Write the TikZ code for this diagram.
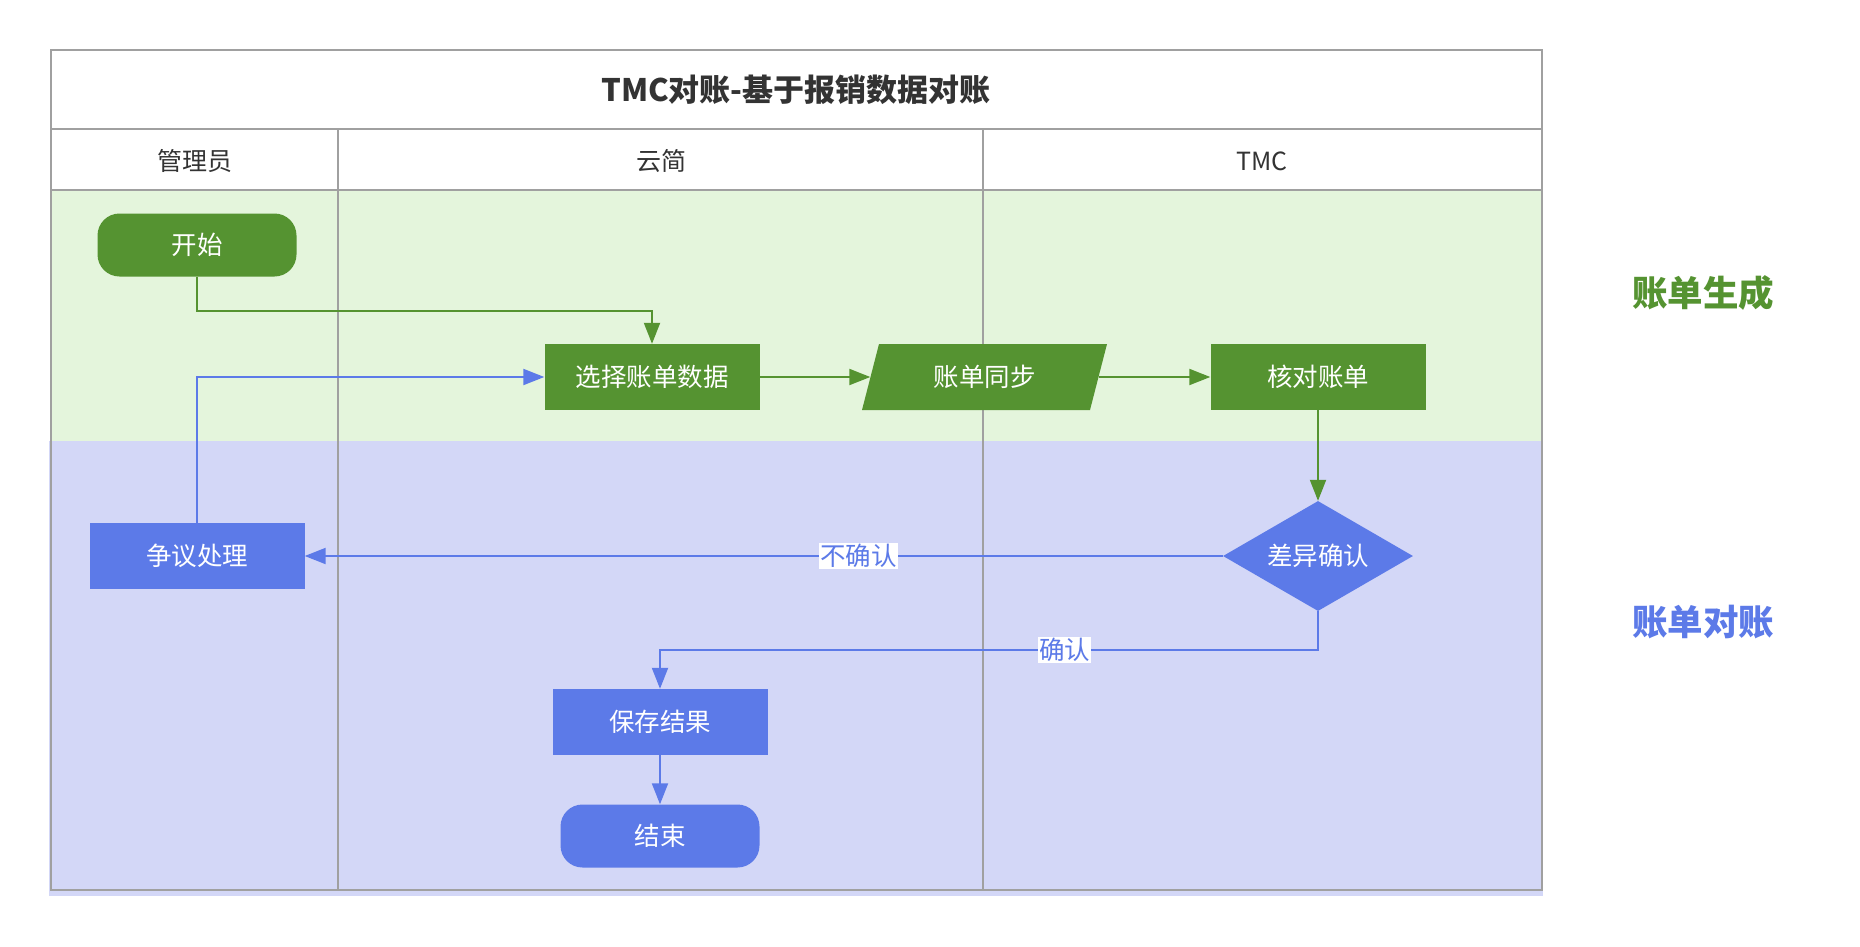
\documentclass[tikz,border=0pt]{standalone}
\usepackage{fontspec}
\setmainfont{Noto Sans CJK SC}
\usetikzlibrary{arrows.meta,shapes.geometric}
\definecolor{gfill}{HTML}{559331}
\definecolor{bfill}{HTML}{5C7AE8}
\definecolor{gband}{HTML}{E4F5DC}
\definecolor{bband}{HTML}{D3D7F7}
\definecolor{lanegray}{HTML}{A0A0A0}
\definecolor{txtgray}{HTML}{333333}
\newcommand\fsz[1]{\fontsize{#1}{#1}\selectfont}
\begin{document}
\begin{tikzpicture}[x=1pt,y=-1pt,
  proc/.style={rectangle, minimum width=215pt, minimum height=66pt, inner sep=0pt, text=white, font=\fsz{25.5}},
  gproc/.style={proc, fill=gfill},
  bproc/.style={proc, fill=bfill},
  term/.style={rectangle, rounded corners=22pt, minimum width=199pt, minimum height=63pt, inner sep=0pt, text=white, font=\fsz{25.5}},
  lane/.style={draw=lanegray, line width=2pt},
  hdr/.style={text=txtgray, font=\fsz{25}},
  garrow/.style={draw=gfill, line width=2pt, -{Triangle[length=21pt,width=16pt]}},
  barrow/.style={draw=bfill, line width=2pt, -{Triangle[length=21pt,width=16pt]}},
  lbl/.style={fill=white, text=bfill, inner sep=1pt, font=\fsz{25.5}},
  side/.style={font=\fsz{35.5}\bfseries}
]
\useasboundingbox[fill=white] (0,0) rectangle (1860,946);
% bands
\fill[bband] (49,441) rectangle (1543,896);
\fill[gband] (51,190) rectangle (1542,441);
% frame
\draw[lane] (51,50) rectangle (1542,890);
\draw[lane] (51,129) -- (1542,129);
\draw[lane] (51,190) -- (1542,190);
\draw[lane] (338,129) -- (338,890);
\draw[lane] (983,129) -- (983,890);
% title and headers
\node[text=txtgray, font=\fsz{31}\bfseries] (title) at (796,90) {TMC对账-基于报销数据对账};
\node[hdr] (h1) at (195,161) {管理员};
\node[hdr] (h2) at (661,161) {云简};
\node[hdr] (h3) at (1262,161) {TMC};
% side labels
\node[side, text=gfill] (s1) at (1703,293) {账单生成};
\node[side, text=bfill] (s2) at (1703,622) {账单对账};
% nodes
\node[term, fill=gfill] (start) at (197,245) {开始};
\node[gproc] (sel) at (652,377) {选择账单数据};
\fill[gfill] (862,410) -- (879,344) -- (1107,344) -- (1090,410) -- cycle;
\node[rectangle, minimum width=228pt, minimum height=66pt, inner sep=0pt, text=white, font=\fsz{25.5}] (sync) at (984.5,377) {账单同步};
\node[gproc] (check) at (1318,377) {核对账单};
\node[diamond, fill=bfill, minimum width=190pt, minimum height=110pt, aspect=1.727, inner sep=0pt, text=white, font=\fsz{25.5}] (diff) at (1318,556) {差异确认};
\node[bproc] (disp) at (197,556) {争议处理};
\node[bproc] (save) at (660,722) {保存结果};
\node[term, fill=bfill] (stop) at (660,836) {结束};
% connectors
\draw[garrow] (start.south) -- ++(0,34) -| (sel.north);
\draw[garrow] (sel.east) -- (sync.west);
\draw[garrow] (sync.east) -- (check.west);
\draw[garrow] (check.south) -- (diff.north);
\draw[barrow] (diff.west) -- node[lbl,pos=0.397]{不确认} (disp.east);
\draw[barrow] (disp.north) |- (sel.west);
\draw[barrow] (diff.south) -- ++(0,39) coordinate (c1) -- node[lbl,pos=0.385]{确认} (c1 -| save.north) -- (save.north);
\draw[barrow] (save.south) -- (stop.north);
\end{tikzpicture}
\end{document}
